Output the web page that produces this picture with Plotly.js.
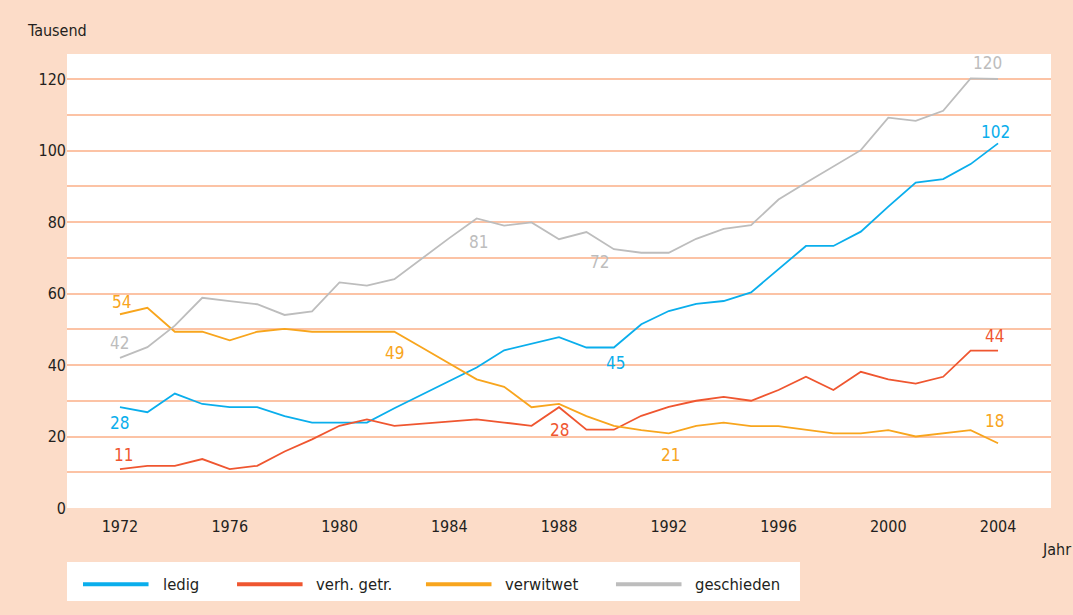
<!DOCTYPE html>
<html>
<head>
<meta charset="utf-8">
<script src="https://cdn.plot.ly/plotly-3.0.1.min.js"></script>
<style>
  html, body { margin: 0; padding: 0; background: #FCDCC8; }
  #chart { width: 1073px; height: 615px; }
</style>
</head>
<body>
<div id="chart"></div>
<script>
const years = [1972,1973,1974,1975,1976,1977,1978,1979,1980,1981,1982,1983,1984,1985,1986,1987,1988,
  1989,1990,1991,1992,1993,1994,1995,1996,1997,1998,1999,2000,2001,2002,2003,2004];

const ledig = [28.2,26.8,32,29.1,28.2,28.2,25.7,23.9,23.9,23.9,27.9,31.7,35.5,39.3,44.1,46,47.8,
  44.9,44.9,51.4,55.1,57.1,57.9,60.3,66.8,73.3,73.3,77.3,84.3,91,92,96.2,102];
const verhGetr = [10.9,11.8,11.8,13.7,10.9,11.8,15.8,19.2,23,24.8,23,23.6,24.2,24.8,23.9,23,28.2,
  21.9,21.9,25.8,28.3,30,31.1,30,33,36.7,33,38.1,36,34.8,36.7,44,44];
const verwitwet = [54.2,56,49.3,49.3,46.9,49.3,50.1,49.3,49.3,49.3,49.3,44.9,40.5,36,33.9,28.2,29.1,
  25.7,23,21.8,20.9,23,23.9,22.9,22.9,21.8,20.9,20.9,21.8,20,20.9,21.8,18.1];
const geschieden = [42,45,51,58.8,57.9,57,54,55,63.1,62.2,64,69.8,75.5,81,79,79.9,75.2,
  77.2,72.4,71.4,71.4,75.3,78.1,79.1,86.3,91,95.5,100.1,109.2,108.3,111.1,120.2,120];

const seriesNames = ['ledig', 'verh. getr.', 'verwitwet', 'geschieden'];
const seriesColors = ['#0AAEEC', '#EF5630', '#F8A51D', '#BDBDBD'];
const seriesValues = [ledig, verhGetr, verwitwet, geschieden];

const xTicks = [1972,1976,1980,1984,1988,1992,1996,2000,2004];
const yGrid = [10,20,30,40,50,60,70,80,90,100,110,120];
const yTicks = [0,20,40,60,80,100,120];

// value labels: [text, series index, x, y]
const valueLabels = [
  ['42', 3, 1972, 46.2], ['54', 2, 1972.05, 57.7], ['28', 0, 1972, 23.9], ['11', 1, 1972.12, 14.8],
  ['49', 2, 1982, 43.4], ['81', 3, 1985.05, 74.5], ['72', 3, 1989.47, 68.9], ['45', 0, 1990.07, 40.6],
  ['28', 1, 1988, 21.8], ['21', 2, 1992.05, 14.8], ['120', 3, 2003.63, 124.6], ['102', 0, 2003.9, 105.1],
  ['44', 1, 2003.88, 48.1], ['18', 2, 2003.88, 24.4]
];

const FONT = '"DejaVu Sans Condensed", "Liberation Sans Narrow", Arial, sans-serif';
const TXT = '#231F20';

const traces = seriesNames.map((n, i) => ({
  type: 'scatter', mode: 'lines', name: n, x: years, y: seriesValues[i],
  line: { color: seriesColors[i], width: 1.8 }, showlegend: false, hoverinfo: 'x+y'
}));
// invisible trace to drive grid axis
traces.push({ type: 'scatter', mode: 'lines', x: [years[0]], y: [0], yaxis: 'y2',
  showlegend: false, hoverinfo: 'skip', line: { width: 0 } });

const annotations = valueLabels.map(v => ({
  text: v[0], x: v[2], y: v[3], xref: 'x', yref: 'y', showarrow: false,
  xanchor: 'center', yanchor: 'middle',
  font: { family: FONT, size: 17, color: seriesColors[v[1]] }
}));

annotations.push({ text: 'Tausend', xref: 'paper', yref: 'paper', x: -0.0102, y: 1.0507,
  xanchor: 'center', yanchor: 'middle', showarrow: false, font: { family: FONT, size: 16, color: TXT } });
annotations.push({ text: 'Jahr', xref: 'paper', yref: 'paper', x: 0.9888, y: -0.0925,
  xanchor: 'left', yanchor: 'middle', showarrow: false, font: { family: FONT, size: 16, color: TXT } });

// manual legend
const shapes = [{ type: 'rect', xref: 'paper', yref: 'paper', x0: 0, x1: 0.7449, y0: -0.2048, y1: -0.1189,
  fillcolor: '#FFFFFF', line: { width: 0 }, layer: 'below' }];
const legX0 = [0.01626, 0.1728, 0.3648, 0.5579];
const legText = [0.0952, 0.2510, 0.4431, 0.6362];
seriesNames.forEach((n, i) => {
  shapes.push({ type: 'line', xref: 'paper', yref: 'paper', x0: legX0[i], x1: legX0[i] + 0.0666,
    y0: -0.168, y1: -0.168, line: { color: seriesColors[i], width: 4 } });
  annotations.push({ text: n, xref: 'paper', yref: 'paper', x: legText[i], y: -0.168,
    xanchor: 'left', yanchor: 'middle', showarrow: false, font: { family: FONT, size: 16.5, color: TXT } });
});

const layout = {
  width: 1073, height: 615,
  margin: { l: 67, r: 22, t: 54, b: 107 },
  paper_bgcolor: '#FCDCC8', plot_bgcolor: '#FFFFFF',
  showlegend: false,
  font: { family: FONT, size: 16, color: TXT },
  xaxis: { range: [1970.07, 2005.93], tickvals: xTicks, showgrid: false, zeroline: false,
    showline: false, ticks: '', ticklabelstandoff: 7, tickfont: { family: FONT, size: 16, color: TXT } },
  yaxis: { range: [0, 127], tickvals: yTicks, showgrid: false, zeroline: false, showline: false,
    ticks: '', tickfont: { family: FONT, size: 16, color: TXT } },
  yaxis2: { range: [0, 127], overlaying: 'y', tickvals: yGrid, showgrid: true, gridcolor: '#FCC3A5',
    gridwidth: 2, showticklabels: false, zeroline: false, showline: false, ticks: '' },
  annotations: annotations,
  shapes: shapes
};

Plotly.newPlot('chart', traces, layout, { displayModeBar: false, staticPlot: true });
</script>
</body>
</html>
